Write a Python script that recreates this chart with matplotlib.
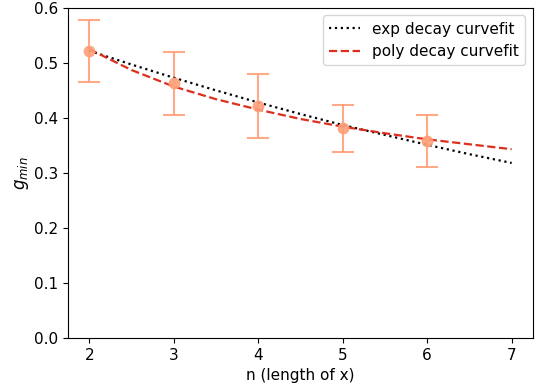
import numpy as np
import matplotlib.pyplot as plt

# measured g_min per length n, with error
n = [2, 3, 4, 5, 6]
g_min = [0.522, 0.463, 0.422, 0.381, 0.358]
g_err = [0.056, 0.057, 0.058, 0.043, 0.047]

# fitted curves, read at half steps
n_fit = [2, 2.5, 3, 3.5, 4, 4.5, 5, 5.5, 6, 6.5, 7]
exp_fit = [0.522, 0.497, 0.473, 0.450, 0.428, 0.407, 0.387, 0.369, 0.351, 0.334, 0.318]
poly_fit = [0.525, 0.487, 0.457, 0.434, 0.415, 0.398, 0.384, 0.372, 0.361, 0.352, 0.343]

plt.rcParams['font.size'] = 11

fig = plt.figure(figsize=(5.36, 3.92), dpi=100)
ax = fig.add_axes([0.127, 0.138, 0.867, 0.842])

ax.errorbar(n, g_min, yerr=g_err, fmt='o', color='lightsalmon', markersize=7.5,
            capsize=8, elinewidth=1.5, capthick=1.5, alpha=0.9)
ax.plot(n_fit, exp_fit, ':', color='black', lw=1.6, label='exp decay curvefit')
ax.plot(n_fit, poly_fit, '--', color='#dc2f1e', lw=1.6, label='poly decay curvefit')

ax.set_ylim(0, 0.6)
ax.set_xlabel('n (length of x)')
ax.set_ylabel('$g_{min}$', fontsize=12, labelpad=2)
ax.legend(loc='upper right')

plt.savefig('out.png', dpi=100)
